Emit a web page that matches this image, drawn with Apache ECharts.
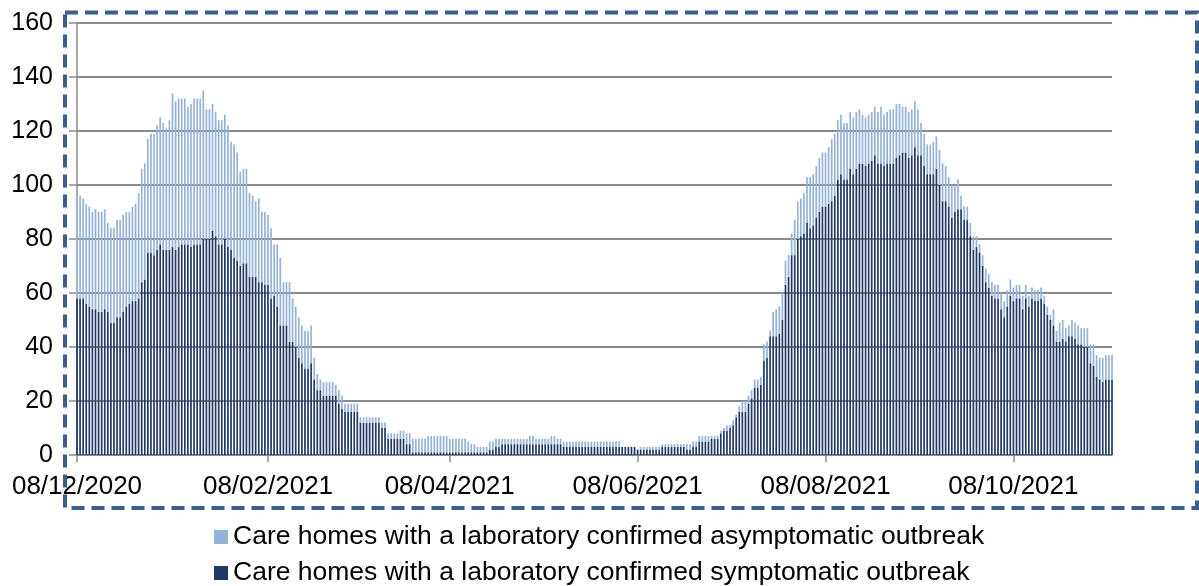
<!DOCTYPE html>
<html>
<head>
<meta charset="utf-8">
<title>Care home outbreaks</title>
<script src="https://cdn.jsdelivr.net/npm/echarts@6/dist/echarts.min.js"></script>
<style>
  html, body { margin: 0; padding: 0; background: #fff; }
  #chart { width: 1199px; height: 586px; }
</style>
</head>
<body>
<div id="chart"></div>
<script>
// daily values, first day 08/12/2020
const startDay = [2020, 11, 8];

const symptomatic = [
  58,58,58,56,55,54,54,53,53,54, 53,49,49,51,51,53,55,56,57,57,
  58,64,65,75,75,74,76,78,76,76, 76,77,76,77,78,78,78,77,78,78,
  78,80,80,80,83,81,78,78,80,77, 76,73,72,70,71,71,66,66,66,64,
  64,63,63,58,59,55,48,48,48,42, 42,40,36,34,32,32,34,28,24,
  24,22,22,22,22,22,19,17,16,16, 16,16,16,12,12,12,12,12,12,12,
  10,10,6,6,6,6,6,6,4,4, 1,1,1,1,1,1,1,1,1,1,
  1,1,1,1,1,1,1,1,1,1, 1,1,1,1,1,2,2,3,3,4,
  4,4,4,4,4,4,4,4,4,4, 4,4,4,4,4,4,4,4,4,3,
  3,3,3,3,3,3,3,3,3,3, 3,3,3,3,3,3,3,3,3,3,
  3,3,3,2,2,2,2,2,2,2, 2,3,3,3,3,3,3,3,3,2,
  2,3,3,5,5,5,5,6,6,6,
  8,9,9,10,11,14,16,16,16,19, 21,25,25,26,35,36,44,44,44,45,
  50,63,66,74,74,80,81,82,86,84, 85,88,90,92,92,93,94,96,102,104,
  102,102,106,104,106,108,108,107,108,109, 111,108,108,107,108,108,108,110,111,112,
  112,110,111,114,111,111,107,104,104,104, 106,100,94,94,92,88,90,91,91,87,
  87,81,76,77,
  75,70,64,62,59,58,58,54,51,55, 59,57,58,58,54,58,55,58,57,57,
  58,56,52,50,48,42,42,43,42,44, 44,43,41,41,40,40,34,33,29,28,
  27,28,28,28
];

const asymptomatic = [
  40,38,37,37,37,36,37,37,37,37, 33,35,35,36,36,36,35,34,35,36,
  39,42,43,42,44,45,46,47,47,45, 48,57,55,55,54,54,51,53,54,54,
  54,55,48,48,47,46,46,46,46,45, 40,42,40,35,35,35,31,30,28,31,
  26,27,26,26,19,23,25,16,16,22, 16,15,15,14,14,14,14,8,6,
  4,5,5,5,5,4,5,5,3,3, 3,3,3,2,2,2,2,2,2,2,
  2,2,2,2,2,2,3,3,4,4, 5,5,5,5,5,6,6,6,6,6,
  6,6,5,5,5,5,5,5,4,3, 3,2,2,2,2,3,3,3,3,2,
  2,2,2,2,2,2,2,2,3,3, 2,2,2,2,2,3,3,2,2,2,
  2,2,2,2,2,2,2,2,2,2, 2,2,2,2,2,2,2,2,0,0,
  0,0,0,0,1,1,1,1,1,1, 1,1,1,1,1,1,1,1,1,2,
  2,2,2,2,2,2,2,1,1,1,
  1,1,2,1,2,1,2,4,4,3, 3,3,3,3,6,6,2,9,10,10,
  10,9,8,8,13,14,14,15,17,19, 19,19,20,20,20,21,23,23,22,22,
  21,21,21,21,21,20,18,18,18,18, 18,19,21,19,19,20,20,20,19,17,
  17,17,17,17,17,12,12,11,11,12, 12,13,14,13,11,12,10,11,5,5,
  5,5,5,4,
  3,4,5,5,5,5,5,6,6,6, 6,5,5,5,5,5,4,4,4,4,
  4,3,3,2,6,4,7,7,5,4, 6,6,7,6,7,7,7,8,8,8,
  9,9,9,9
];

const tickLabels = ["08/12/2020", "08/02/2021", "08/04/2021", "08/06/2021", "08/08/2021", "08/10/2021"];
const seriesNames = [
  "Care homes with a laboratory confirmed asymptomatic outbreak",
  "Care homes with a laboratory confirmed symptomatic outbreak"
];

function pad(n) { return n < 10 ? "0" + n : "" + n; }
const days = [];
for (let i = 0; i < symptomatic.length; i++) {
  const d = new Date(Date.UTC(startDay[0], startDay[1], startDay[2] + i));
  days.push(pad(d.getUTCDate()) + "/" + pad(d.getUTCMonth() + 1) + "/" + d.getUTCFullYear());
}
const showTick = function (index, value) { return tickLabels.indexOf(value) >= 0; };

const font = "'Liberation Sans', Arial, sans-serif";
const legendText = { fontSize: 26.5, color: "#000", lineHeight: 28, fontFamily: font };

const chart = echarts.init(document.getElementById("chart"));
chart.setOption({
  animation: false,
  textStyle: { fontFamily: font },
  grid: { left: 77, right: 87, top: 23, bottom: 131, containLabel: false },
  // one legend per line, stacked like the original
  legend: [
    {
      left: 209, top: 518, itemWidth: 14, itemHeight: 14, icon: "rect",
      data: [seriesNames[0]], textStyle: legendText
    },
    {
      left: 209, top: 554, itemWidth: 14, itemHeight: 14, icon: "rect",
      data: [seriesNames[1]], textStyle: legendText
    }
  ],
  xAxis: {
    type: "category",
    data: days,
    boundaryGap: false,
    axisLine: { lineStyle: { color: "#8a8a8a", width: 1.5 } },
    axisTick: { interval: showTick, length: 7, lineStyle: { color: "#8a8a8a", width: 1.5 } },
    axisLabel: { interval: showTick, color: "#000", fontSize: 26, margin: 19, fontFamily: font },
    splitLine: { show: false }
  },
  yAxis: {
    type: "value",
    min: 0,
    max: 160,
    interval: 20,
    axisLine: { show: true, lineStyle: { color: "#8a8a8a", width: 1.5 } },
    axisTick: { show: true, length: 8, lineStyle: { color: "#8a8a8a", width: 1.5 } },
    axisLabel: { color: "#000", fontSize: 25, margin: 24, fontFamily: font },
    splitLine: { lineStyle: { color: "#8a8a8a", width: 2 } }
  },
  series: [
    {
      name: seriesNames[1],
      type: "bar",
      stack: "homes",
      data: symptomatic,
      barWidth: "55%",
      itemStyle: { color: "#1f3864" }
    },
    {
      name: seriesNames[0],
      type: "bar",
      stack: "homes",
      data: asymptomatic,
      barWidth: "55%",
      itemStyle: { color: "#95b3d7" }
    }
  ],
  graphic: [
    {
      // dashed frame round the plot
      type: "rect",
      shape: { x: 65, y: 12.5, width: 1132, height: 495.5 },
      style: { fill: null, stroke: "#3a5f8f", lineWidth: 4, lineDash: [13, 7] },
      z: 100
    }
  ]
});
</script>
</body>
</html>
